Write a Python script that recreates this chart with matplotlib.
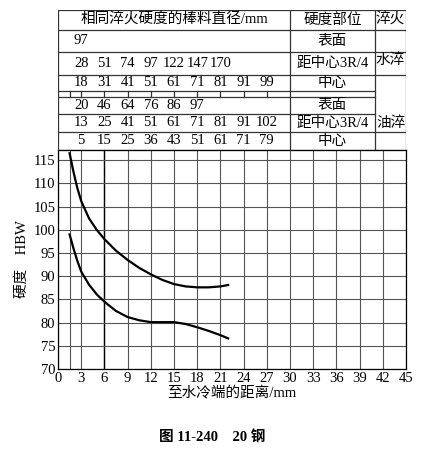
import matplotlib
matplotlib.use("Agg")
import matplotlib.pyplot as plt
from matplotlib.ticker import FixedLocator

plt.rcParams['font.family'] = ['Liberation Serif', 'Noto Sans CJK SC']
FS = 10.5

upper_x = [1.5, 2, 2.5, 3, 4, 5, 6, 7.5, 9, 10.5, 12, 13.5, 15, 16.5, 18, 19.5, 21, 22]
upper_y = [116.5, 112.5, 109, 106.2, 102.5, 100, 98.0, 95.5, 93.5, 91.8, 90.4, 89.2, 88.3, 87.8, 87.6, 87.6, 87.8, 88.1]
lower_x = [1.5, 2, 2.5, 3, 4, 5, 6, 7.5, 9, 10.5, 12, 13.5, 15, 16.5, 18, 19.5, 21, 22]
lower_y = [99.0, 96, 93.3, 91.0, 88.2, 86.1, 84.5, 82.5, 81.2, 80.5, 80.1, 80.1, 80.1, 79.7, 79.0, 78.2, 77.3, 76.6]

water_surface = ["97"]
water_34 = ["28", "51", "74", "97", "122", "147", "170"]
water_center = ["18", "31", "41", "51", "61", "71", "81", "91", "99"]
oil_surface = ["20", "46", "64", "76", "86", "97"]
oil_34 = ["13", "25", "41", "51", "61", "71", "81", "91", "102"]
oil_center = ["5", "15", "25", "36", "43", "51", "61", "71", "79"]

xticks = [0, 3, 6, 9, 12, 15, 18, 21, 24, 27, 30, 33, 36, 39, 42, 45]
xgrid = [1.5] + xticks
yticks = [70, 75, 80, 85, 90, 95, 100, 105, 110, 115]

W, H = 424, 472
fig = plt.figure(figsize=(W/100, H/100), dpi=100)
L, R = 58/W, 406/W
ax = fig.add_axes([L, 1-369/H, R-L, (369-150)/H])
ax.set_xlim(0, 45)
ax.set_ylim(70, 117.2)
for g in xgrid:
    ax.axvline(g, color='#555', lw=0.8, zorder=1)
ax.axvline(6, color='black', lw=1.0, zorder=1)
for g in yticks + [117.2]:
    ax.axhline(g, color='#555', lw=0.8, zorder=1)
ax.plot(upper_x, upper_y, color='black', lw=1.6, zorder=3)
ax.plot(lower_x, lower_y, color='black', lw=1.6, zorder=3)
ax.xaxis.set_major_locator(FixedLocator(xticks))
ax.yaxis.set_major_locator(FixedLocator(yticks))
ax.tick_params(length=0, labelsize=FS, pad=2)
for s in ax.spines.values():
    s.set_linewidth(0.9)
ax.set_xlabel("至水冷端的距离/mm", fontsize=FS, labelpad=1)
ax.set_ylabel("硬度    HBW", fontsize=FS, labelpad=3)

# table
tab = fig.add_axes([L, 1-150/H, 1-L-(1-R), 140/H])
tab.set_xlim(0, 45)
tab.set_ylim(150, 10)
tab.axis('off')
c1, c2 = 30, 41.0
lk = dict(color='#333', lw=0.9)
tab.plot([0, 45, 45, 0, 0], [10, 10, 150, 150, 10], **lk)
for y in [30, 52, 75, 132]:
    tab.plot([0, 45], [y, y], **lk)
for y in [91, 97, 114]:
    tab.plot([0, c2], [y, y], **lk)
tab.plot([c1, c1], [10, 150], **lk)
tab.plot([c2, c2], [10, 150], **lk)
for g in xgrid:
    if 0 < g < c1:
        tab.plot([g, g], [91, 97], **lk)
tab.text(15, 20, "相同淬火硬度的棒料直径/mm", ha='center', va='center', fontsize=FS)
tab.text((c1+c2)/2, 20, "硬度部位", ha='center', va='center', fontsize=FS)
tab.text((c2+45)/2, 20, "淬火", ha='center', va='center', fontsize=FS)
rows = [(41, water_surface, "表面"), (63.5, water_34, "距中心3R/4"), (83, water_center, "中心"),
        (105.5, oil_surface, "表面"), (123, oil_34, "距中心3R/4"), (141, oil_center, "中心")]
for y, vals, lab in rows:
    for i, v in enumerate(vals):
        tab.text(3*(i+1), y, v, ha='center', va='center', fontsize=FS)
    tab.text((c1+c2)/2, y, lab, ha='center', va='center', fontsize=FS)
tab.text((c2+45)/2, 60, "水淬", ha='center', va='center', fontsize=FS)
tab.text((c2+45)/2, 123, "油淬", ha='center', va='center', fontsize=FS)

fig.text(0.5, 1-437/H, "图 11-240    20 钢", ha='center', va='center', fontsize=FS, fontweight='bold')
fig.savefig("out.png", dpi=100)
